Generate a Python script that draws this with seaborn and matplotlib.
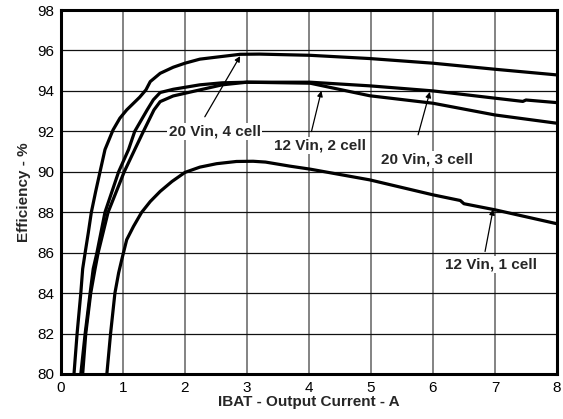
import matplotlib
matplotlib.use("Agg")
import matplotlib.pyplot as plt
import seaborn as sns
import pandas as pd

# 20 Vin, 4 cell
x_20v4c = [0.21, 0.26, 0.32, 0.35, 0.39, 0.44, 0.49, 0.56, 0.63, 0.71, 0.84, 0.95, 1.06, 1.27, 1.37, 1.44, 1.60, 1.81, 2.0, 2.24, 2.48, 2.89, 3.2, 4.02, 4.98, 6.0, 7.0, 8.0]
y_20v4c = [80, 82, 84, 85.2, 86, 86.97, 88, 89.03, 90, 91.1, 92.07, 92.65, 93.06, 93.69, 94.05, 94.46, 94.87, 95.17, 95.37, 95.57, 95.66, 95.81, 95.82, 95.76, 95.6, 95.37, 95.07, 94.79]
# 12 Vin, 2 cell
x_12v2c = [0.32, 0.39, 0.47, 0.52, 0.58, 0.71, 0.93, 1.09, 1.19, 1.39, 1.49, 1.60, 1.81, 2.24, 2.6, 3.0, 4.02, 4.98, 6.0, 7.0, 8.0]
y_12v2c = [80, 82, 84, 85.2, 86, 88, 90, 91.1, 92, 93.06, 93.56, 93.92, 94.08, 94.30, 94.40, 94.43, 94.38, 93.76, 93.39, 92.81, 92.40]
# 20 Vin, 3 cell
x_20v3c = [0.35, 0.40, 0.48, 0.55, 0.60, 0.76, 1.02, 1.19, 1.33, 1.50, 1.60, 1.81, 2.24, 2.6, 3.0, 4.02, 4.98, 6.0, 7.0, 7.45, 7.5, 8.0]
y_20v3c = [80, 82, 84, 85.2, 86, 88, 90, 91.1, 92, 93.06, 93.47, 93.75, 94.05, 94.3, 94.43, 94.43, 94.25, 94.0, 93.64, 93.48, 93.55, 93.42]
# 12 Vin, 1 cell
x_12v1c = [0.74, 0.80, 0.87, 0.93, 0.98, 1.06, 1.17, 1.30, 1.44, 1.60, 1.79, 2.0, 2.24, 2.51, 2.83, 3.1, 3.3, 3.69, 4.02, 4.98, 6.0, 6.44, 6.5, 7.0, 8.0]
y_12v1c = [80, 82, 84, 85.0, 85.65, 86.64, 87.3, 87.99, 88.53, 89.03, 89.52, 89.97, 90.23, 90.4, 90.51, 90.52, 90.48, 90.28, 90.13, 89.6, 88.86, 88.58, 88.42, 88.12, 87.43]

labels = ["20 Vin, 4 cell", "12 Vin, 2 cell", "20 Vin, 3 cell", "12 Vin, 1 cell"]
# annotation text positions and arrow tips / tails (data coords)
text_xy = [(2.48, 91.98), (4.18, 91.3), (5.9, 90.6), (6.94, 85.41)]
tip_xy = [(2.89, 95.72), (4.2, 94.0), (5.95, 93.95), (6.97, 88.15)]
tail_xy = [(2.32, 92.72), (4.04, 91.99), (5.76, 91.83), (6.84, 86.06)]

frames = []
for name, xs, ys in [(labels[0], x_20v4c, y_20v4c), (labels[1], x_12v2c, y_12v2c),
                     (labels[2], x_20v3c, y_20v3c), (labels[3], x_12v1c, y_12v1c)]:
    frames.append(pd.DataFrame({"I": xs, "Eff": ys, "series": name}))
df = pd.concat(frames, ignore_index=True)

sns.set_style("white")
plt.rcParams['font.family'] = ['Liberation Sans', 'DejaVu Sans']

fig = plt.figure(figsize=(5.63, 4.19), dpi=100)
ax = fig.add_axes([0.1083, 0.1074, 0.881, 0.8687])

for name in labels:
    sns.lineplot(data=df[df.series == name], x="I", y="Eff", sort=False, ax=ax,
                 color="black", linewidth=2.3, estimator=None, zorder=3)
for line in ax.get_lines():
    line.set_solid_joinstyle("round")
    line.set_solid_capstyle("butt")

ax.set_xlim(0, 8)
ax.set_ylim(80, 98)
ax.set_xticks(range(0, 9))
ax.set_yticks(range(80, 99, 2))
ax.xaxis.grid(True, color="#7a7a7a", linewidth=1.3)
ax.yaxis.grid(True, color="#111111", linewidth=0.9)
ax.set_axisbelow(True)
for s in ax.spines.values():
    s.set_visible(True)
    s.set_color("black")
    s.set_linewidth(2.2)
ax.tick_params(length=0, labelsize=11, colors="black")
ax.tick_params(axis="x", pad=5)
ax.tick_params(axis="y", pad=5)
ax.set_xlabel("IBAT - Output Current - A", fontsize=11, fontweight="bold", labelpad=0)
ax.set_ylabel("Efficiency - %", fontsize=11, fontweight="bold", labelpad=4)

for lab, txy, tip, tail in zip(labels, text_xy, tip_xy, tail_xy):
    ax.text(txy[0], txy[1], lab, fontsize=11, fontweight="bold", ha="center", va="center",
            bbox=dict(facecolor="white", edgecolor="none", pad=1.0), zorder=4)
    ax.annotate("", xy=tip, xytext=tail,
                arrowprops=dict(arrowstyle="-|>", color="black", lw=0.9,
                                mutation_scale=8, shrinkA=0, shrinkB=0), zorder=5)

fig.savefig("out.png", dpi=100)
